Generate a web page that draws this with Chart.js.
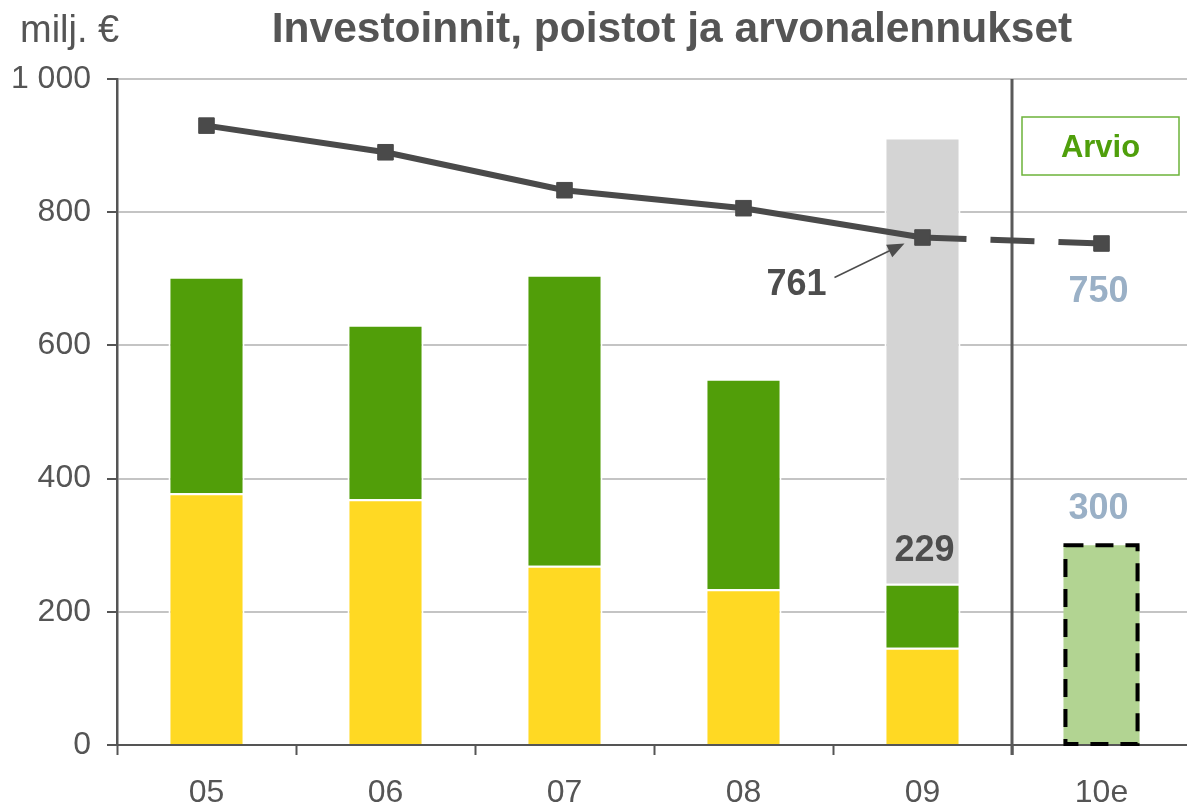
<!DOCTYPE html>
<html>
<head>
<meta charset="utf-8">
<script src="https://cdn.jsdelivr.net/npm/chart.js@4.4.1/dist/chart.umd.min.js"></script>
<style>
  html, body { margin: 0; background: #fff; overflow: hidden; }
  #wrap { width: 1203px; height: 807px; position: relative; }
</style>
</head>
<body>
<div id="wrap"><canvas id="chart"></canvas></div>
<script>
// data
const years = ['05', '06', '07', '08', '09', '10e'];
const poistot = [378, 369, 269, 234, 146, null];      // yellow part
const investoinnit = [325, 262, 437, 316, 96, null];  // green part
const arvonalennus = [null, null, null, null, 670, null]; // grey part (09)
const arvioBar = [null, null, null, null, null, 300]; // estimate 10e
const lineValues = [930, 890, 833, 806, 762, 753];
const labelLine09 = '761';
const labelLine10 = '750';
const labelBar09 = '229';
const labelBar10 = '300';

const FONT = '"Liberation Sans", Arial, sans-serif';
const DARK = '#555555';

function fmt(v) {
  return String(v).replace(/\B(?=(\d{3})+(?!\d))/g, ' ');
}

const extras = {
  id: 'extras',
  beforeDatasetsDraw(chart) {
    const ctx = chart.ctx;
    const xs = chart.scales.x;
    const area = chart.chartArea;
    const sx = (xs.getPixelForValue(4) + xs.getPixelForValue(5)) / 2;
    ctx.save();
    ctx.strokeStyle = '#5a5a5a';
    ctx.lineWidth = 3;
    ctx.beginPath();
    ctx.moveTo(sx, area.top);
    ctx.lineTo(sx, area.bottom + 10);
    ctx.stroke();

    // Arvio box
    const bx = sx + 10, by = 117, bw = 157, bh = 58;
    ctx.strokeStyle = '#6cb33a';
    ctx.lineWidth = 1.5;
    ctx.strokeRect(bx, by, bw, bh);
    ctx.fillStyle = '#4f9f0b';
    ctx.font = 'bold 31px ' + FONT;
    ctx.textAlign = 'center';
    ctx.textBaseline = 'alphabetic';
    ctx.fillText('Arvio', bx + bw / 2, by + bh / 2 + 11);
    ctx.restore();
  },
  afterDatasetsDraw(chart) {
    const ctx = chart.ctx;
    ctx.save();
    // dashed outline of the estimate bar
    const eb = chart.getDatasetMeta(3).data[5];
    const half = eb.width / 2 - 2;
    ctx.strokeStyle = '#000';
    ctx.lineWidth = 4;
    ctx.setLineDash([18, 12]);
    ctx.strokeRect(eb.x - half, eb.y, half * 2, eb.base - eb.y);
    ctx.setLineDash([]);

    const lm = chart.getDatasetMeta(4);
    const p9 = lm.data[4], p10 = lm.data[5];

    // arrow to 09 point
    const tx = p9.x - 18, ty = p9.y + 6;
    const fx = p9.x - 88, fy = p9.y + 40;
    const ang = Math.atan2(ty - fy, tx - fx);
    ctx.strokeStyle = '#4d4d4d';
    ctx.fillStyle = '#4d4d4d';
    ctx.lineWidth = 1.5;
    ctx.beginPath();
    ctx.moveTo(fx, fy);
    ctx.lineTo(tx - 12 * Math.cos(ang), ty - 12 * Math.sin(ang));
    ctx.stroke();
    ctx.beginPath();
    ctx.moveTo(tx, ty);
    ctx.lineTo(tx - 17 * Math.cos(ang) + 7 * Math.sin(ang), ty - 17 * Math.sin(ang) - 7 * Math.cos(ang));
    ctx.lineTo(tx - 17 * Math.cos(ang) - 7 * Math.sin(ang), ty - 17 * Math.sin(ang) + 7 * Math.cos(ang));
    ctx.closePath();
    ctx.fill();

    ctx.font = 'bold 36px ' + FONT;
    ctx.textAlign = 'center';
    ctx.textBaseline = 'middle';
    ctx.fillStyle = '#4d4d4d';
    ctx.fillText(labelLine09, p9.x - 126, p9.y + 48);
    const gb = chart.getDatasetMeta(2).data[4];
    ctx.fillText(labelBar09, gb.x + 2, gb.base - 33);

    ctx.fillStyle = '#9ab0c6';
    ctx.fillText(labelLine10, p10.x - 3, p10.y + 49);
    ctx.fillText(labelBar10, eb.x - 3, eb.y - 36);
    ctx.restore();
  },
  afterDraw(chart) {
    const ctx = chart.ctx;
    ctx.save();
    ctx.fillStyle = DARK;
    ctx.textBaseline = 'alphabetic';
    ctx.font = 'bold 42.5px ' + FONT;
    ctx.textAlign = 'center';
    ctx.fillText('Investoinnit, poistot ja arvonalennukset', 672, 42);
    ctx.font = '38px ' + FONT;
    ctx.textAlign = 'left';
    ctx.fillText('milj. €', 20, 42);
    ctx.restore();
  }
};

const barCommon = {
  stack: 'bars',
  order: 1,
  borderColor: '#ffffff',
  borderWidth: 2,
  barPercentage: 0.425,
  categoryPercentage: 1.0
};

new Chart(document.getElementById('chart'), {
  type: 'bar',
  data: {
    labels: years,
    datasets: [
      Object.assign({ label: 'Poistot', data: poistot, backgroundColor: '#ffd923' }, barCommon),
      Object.assign({ label: 'Investoinnit', data: investoinnit, backgroundColor: '#519e09' }, barCommon),
      Object.assign({ label: 'Arvonalennukset', data: arvonalennus, backgroundColor: '#d4d4d4' }, barCommon),
      Object.assign({ label: 'Arvio', data: arvioBar, backgroundColor: '#b2d492' }, barCommon, { borderWidth: 0 }),
      {
        type: 'line',
        label: 'Poistot ja arvonalennukset',
        data: lineValues,
        stack: 'line',
        order: 0,
        borderColor: '#4a4a4a',
        borderWidth: 6,
        tension: 0,
        pointStyle: 'rect',
        pointRadius: 11,
        pointBorderWidth: 1,
        pointBackgroundColor: '#4a4a4a',
        pointBorderColor: '#4a4a4a',
        segment: {
          borderDash: c => (c.p0DataIndex === 4 ? [44, 24] : undefined)
        }
      }
    ]
  },
  options: {
    responsive: true,
    maintainAspectRatio: false,
    animation: false,
    layout: { padding: { top: 79, right: 0, left: 0, bottom: 0 } },
    plugins: {
      legend: { display: false },
      title: { display: false },
      tooltip: { enabled: false }
    },
    scales: {
      x: {
        stacked: true,
        afterFit: s => { s.height = 62; s.paddingRight = 0; s.paddingLeft = 0; },
        grid: {
          offset: true,
          drawOnChartArea: false,
          drawTicks: true,
          tickLength: 10,
          tickColor: DARK,
          tickWidth: 2
        },
        border: { color: DARK, width: 2 },
        ticks: {
          color: DARK,
          padding: 19,
          font: { family: FONT, size: 32 }
        }
      },
      y: {
        stacked: true,
        min: 0,
        max: 1000,
        afterFit: s => { s.width = 117; },
        grid: {
          color: '#c4c4c4',
          lineWidth: 2,
          tickLength: 10,
          tickColor: DARK,
          tickWidth: 2
        },
        border: { color: DARK, width: 2.5 },
        ticks: {
          stepSize: 200,
          color: DARK,
          padding: 16,
          font: { family: FONT, size: 32 },
          callback: v => fmt(v)
        }
      }
    }
  },
  plugins: [extras]
});
</script>
</body>
</html>
